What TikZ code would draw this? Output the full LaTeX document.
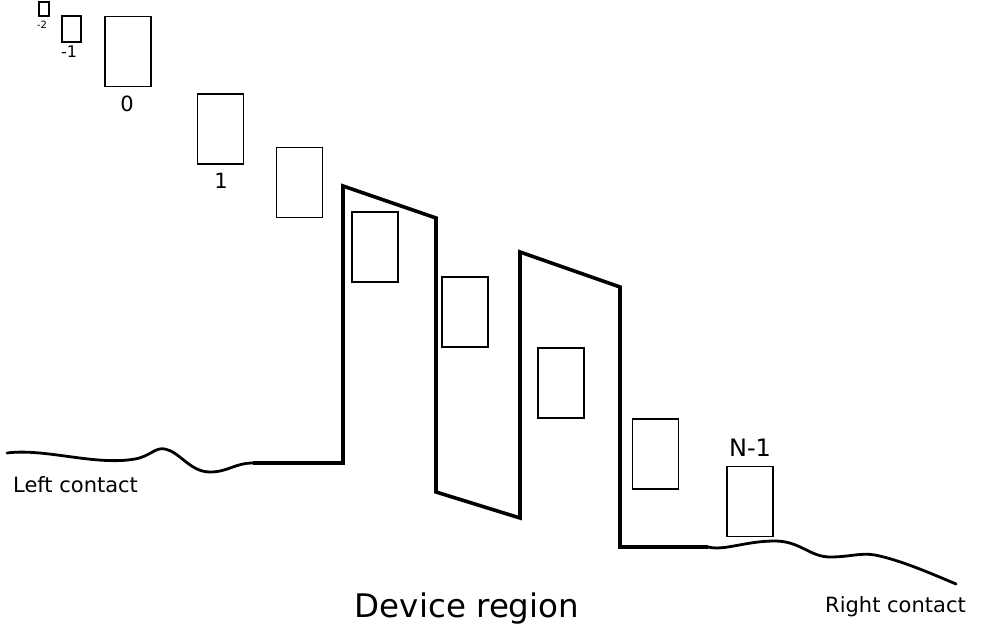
\documentclass[tikz,border=0pt]{standalone}
\usepackage{fontspec}
\setmainfont{DejaVu Sans}
\begin{document}
\begin{tikzpicture}[x=1pt,y=-1pt,
  level/.style={draw, line width=1.4pt, minimum width=46pt, minimum height=70pt, inner sep=0pt},
  lab/.style={inner sep=0pt, font=\fontsize{21}{25}\selectfont},
  potential/.style={line width=3.6pt, line join=miter},
  contact/.style={line width=2.8pt, line cap=round}]
\useasboundingbox (0,0) rectangle (982,628);
% small levels
\node[draw, line width=1.3pt, minimum width=10pt, minimum height=14pt, inner sep=0pt] (bm2) at (44,9) {};
\node[inner sep=0pt, font=\fontsize{10}{11}\selectfont] (lm2) at (42,25) {-2};
\node[draw, line width=1.4pt, minimum width=19pt, minimum height=26pt, inner sep=0pt] (bm1) at (71.5,29) {};
\node[inner sep=0pt, font=\fontsize{16}{18}\selectfont] (lm1) at (69,52) {-1};
% full levels
\node[level] (b0) at (128,51.5) {};
\node[lab] (l0) at (127,104) {0};
\node[level] (b1) at (220.5,129) {};
\node[lab] (l1) at (221,181) {1};
\node[level] (b2) at (299.5,182.5) {};
\node[level] (b3) at (375,247) {};
\node[level] (b4) at (465,312) {};
\node[level] (b5) at (561,383) {};
\node[level] (b6) at (655.5,454) {};
\node[level] (b7) at (750,501.5) {};
\node[inner sep=0pt, font=\fontsize{24}{28}\selectfont] (l7) at (750,448) {N-1};
% potential profile
\coordinate (p0) at (253,463);
\coordinate (p1) at (343,463);
\coordinate (p2) at (343,186);
\coordinate (p3) at (436,218);
\coordinate (p4) at (436,492);
\coordinate (p5) at (520,518);
\coordinate (p6) at (520,252);
\coordinate (p7) at (620,287);
\coordinate (p8) at (620,547);
\coordinate (p9) at (708,547);
\draw[potential] (p0) -- (p1) -- (p2) -- (p3) -- (p4) -- (p5) -- (p6) -- (p7) -- (p8) -- (p9);
% contacts
\coordinate (lc0) at (7,453);
\draw[contact] (lc0) .. controls (45,448) and (95,466) .. (135,459)
  .. controls (150,456.4) and (155,447) .. (165,449)
  .. controls (180,452) and (190,472) .. (210,472)
  .. controls (228,472) and (235,463) .. (p0);
\coordinate (rc1) at (956,584);
\draw[contact] (p9) .. controls (725,551) and (745,541) .. (775,541)
  .. controls (800,541) and (810,557) .. (830,557)
  .. controls (850,557) and (860,552.5) .. (875,555)
  .. controls (900,560) and (930,573) .. (rc1);
% texts
\node[inner sep=0pt, anchor=base west, font=\fontsize{21}{25}\selectfont] (tl) at (13,492) {Left contact};
\node[inner sep=0pt, anchor=base west, font=\fontsize{21}{25}\selectfont] (tr) at (825,612) {Right contact};
\node[inner sep=0pt, anchor=base, font=\fontsize{32.5}{40}\selectfont] (td) at (467,617) {Device region};
\end{tikzpicture}
\end{document}
